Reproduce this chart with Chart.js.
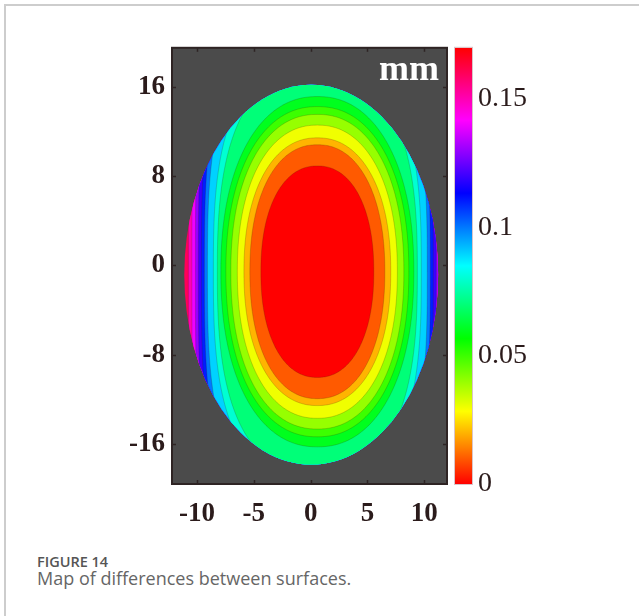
<!DOCTYPE html>
<html><head><meta charset="utf-8">
<script src="https://cdn.jsdelivr.net/npm/chart.js@4/dist/chart.umd.min.js"></script>
<style>
html,body{margin:0;padding:0;background:#fff;width:639px;height:616px;overflow:hidden;}
#frame{position:absolute;left:4px;top:4px;width:635px;height:612px;border-left:2px solid #cdcdcd;border-top:2px solid #cdcdcd;}
#cv{position:absolute;left:0;top:0;}
.cap{position:absolute;left:37px;font-family:"Open Sans";white-space:nowrap;}
#t1{top:555.4px;font-size:14.5px;line-height:14.5px;font-weight:600;color:#555;}
#t2{top:569px;font-size:18px;line-height:18px;color:#666;}
</style></head><body>
<div id="frame"></div>
<canvas id="cv" width="639" height="540"></canvas>
<div class="cap" id="t1">FIGURE 14</div>
<div class="cap" id="t2">Map of differences between surfaces.</div>
<script>
// ---- data ----
const xTicks = [-10, -5, 0, 5, 10];
const yTicks = [-16, -8, 0, 8, 16];
const cbTicks = [0, 0.05, 0.1, 0.15];
const cbTickLabels = ['0', '0.05', '0.1', '0.15'];
const cbMax = 0.17;
// contour levels (mm), semi-axes (plot units) and shape exponents of their iso-lines
const levels     = [0.01, 0.02, 0.03, 0.04, 0.05, 0.06, 0.07, 0.08, 0.09, 0.10, 0.11, 0.12, 0.13, 0.14, 0.15, 0.16];
const semiX      = [4.97, 5.94, 6.46, 7.04, 7.61, 8.05, 8.49, 8.80, 9.15, 9.67, 9.94, 10.20, 10.47, 10.73, 11.04, 11.35];
const semiY      = [9.48, 11.38, 12.00, 13.14, 14.10, 14.80, 15.70, 18.0, 18.8, 20.5, 22.0, 23.5, 25.0, 27.0, 29.0, 31.0];
const contourExp = [2.2, 2.2, 2.2, 2.2, 2.2, 2.2, 2.2, 2.6, 2.8, 3.0, 3.1, 3.2, 3.3, 3.4, 3.5, 3.6];
const fieldCenter = [0.59, -0.57];
const apertureCenter = [0.05, -0.84];
const apertureSemi = [11.17, 17.02];
const unitLabel = 'mm';

function hsv(v){
  let h = (v / cbMax) * 6; h = ((h % 6) + 6) % 6;
  const i = Math.floor(h), f = h - i;
  const q = 1 - f, t = f;
  const tab = [[1,t,0],[q,1,0],[0,1,t],[0,q,1],[t,0,1],[1,0,q]][i];
  return 'rgb(' + tab.map(c => Math.round(c*255)).join(',') + ')';
}

function isoPath(ctx, x, y, a, b, e){
  const N = 360;
  ctx.beginPath();
  for (let i = 0; i < N; i++){
    const t = i / N * Math.PI * 2;
    const c = Math.cos(t), s = Math.sin(t);
    const dx = a * Math.sign(c) * Math.pow(Math.abs(c), 2 / e);
    const dy = b * Math.sign(s) * Math.pow(Math.abs(s), 2 / e);
    const px = x.getPixelForValue(fieldCenter[0] + dx);
    const py = y.getPixelForValue(fieldCenter[1] + dy);
    if (i === 0) ctx.moveTo(px, py); else ctx.lineTo(px, py);
  }
  ctx.closePath();
}

const contourPlugin = {
  id: 'contour',
  beforeDatasetsDraw(chart){
    const {ctx, chartArea: a, scales: {x, y}} = chart;
    ctx.save();
    ctx.fillStyle = '#4b4b4b';
    ctx.fillRect(a.left, a.top, a.width, a.height);
    const acx = x.getPixelForValue(apertureCenter[0]);
    const acy = y.getPixelForValue(apertureCenter[1]);
    const arx = Math.abs(x.getPixelForValue(apertureCenter[0] + apertureSemi[0]) - acx);
    const ary = Math.abs(y.getPixelForValue(apertureCenter[1] + apertureSemi[1]) - acy);
    ctx.beginPath();
    ctx.ellipse(acx, acy, arx, ary, 0, 0, Math.PI*2);
    ctx.clip();
    ctx.fillStyle = hsv(levels[levels.length-1]);
    ctx.fillRect(a.left, a.top, a.width, a.height);
    for (let k = levels.length - 1; k >= 0; k--){
      isoPath(ctx, x, y, semiX[k], semiY[k], contourExp[k]);
      ctx.fillStyle = hsv(k > 0 ? levels[k-1] : 0);
      ctx.fill();
      ctx.strokeStyle = 'rgba(60,40,0,0.2)';
      ctx.lineWidth = 1;
      ctx.stroke();
    }
    ctx.restore();
  },
  afterDraw(chart){
    const {ctx, chartArea: a, scales: {x, y, cb}} = chart;
    ctx.save();
    ctx.strokeStyle = '#2e2424';
    ctx.lineWidth = 2;
    ctx.strokeRect(a.left, a.top, a.width, a.height);
    ctx.lineWidth = 1.5;
    ctx.beginPath();
    xTicks.forEach(v => {
      const p = Math.round(x.getPixelForValue(v)) + 0.5;
      ctx.moveTo(p, a.bottom); ctx.lineTo(p, a.bottom - 4);
      ctx.moveTo(p, a.top); ctx.lineTo(p, a.top + 4);
    });
    yTicks.forEach(v => {
      const p = Math.round(y.getPixelForValue(v)) + 0.5;
      ctx.moveTo(a.left, p); ctx.lineTo(a.left + 4, p);
      ctx.moveTo(a.right, p); ctx.lineTo(a.right - 4, p);
    });
    ctx.stroke();
    ctx.fillStyle = '#ffffff';
    ctx.font = 'bold 36px "Liberation Serif"';
    ctx.textAlign = 'right';
    ctx.textBaseline = 'alphabetic';
    ctx.fillText(unitLabel, a.right - 8, a.top + 32);
    const bx = a.right + 8, bw = 17;
    const top = cb.getPixelForValue(cbMax), bot = cb.getPixelForValue(0);
    const g = ctx.createLinearGradient(0, bot, 0, top);
    for (let i = 0; i <= 36; i++){ g.addColorStop(i/36, hsv(cbMax*i/36)); }
    ctx.fillStyle = g;
    ctx.fillRect(bx, top, bw, bot - top);
    ctx.strokeStyle = '#d9c4c8';
    ctx.lineWidth = 1;
    ctx.strokeRect(bx - 0.5, top - 0.5, bw + 1, bot - top + 1);
    ctx.restore();
  }
};

const tickFont = {family: 'Liberation Serif', size: 27, weight: 'bold'};
new Chart(document.getElementById('cv'), {
  type: 'scatter',
  data: {datasets: [{data: [], pointRadius: 0}]},
  options: {
    responsive: false, animation: false, devicePixelRatio: 1,
    layout: {padding: {left: 100, right: 92, top: 40, bottom: 0}},
    plugins: {legend: {display: false}, tooltip: {enabled: false}},
    scales: {
      x: {type: 'linear', position: 'bottom', min: -12.2, max: 12,
          afterBuildTicks: s => { s.ticks = xTicks.map(v => ({value: v})); },
          afterFit: s => { s.height = 56; },
          grid: {display: false, drawTicks: false}, border: {display: false},
          ticks: {padding: 14, font: tickFont, color: '#2b1b1b', callback: v => String(v)}},
      y: {type: 'linear', position: 'left', min: -19.6, max: 19.5,
          afterBuildTicks: s => { s.ticks = yTicks.map(v => ({value: v})); },
          afterFit: s => { s.width = 72; },
          grid: {display: false, drawTicks: false}, border: {display: false},
          ticks: {padding: 7, font: tickFont, color: '#2b1b1b', callback: v => String(v)}},
      cb: {type: 'linear', position: 'right', min: 0, max: cbMax,
          afterBuildTicks: s => { s.ticks = cbTicks.map(v => ({value: v})); },
          afterFit: s => { s.width = 100; },
          grid: {display: false, drawTicks: false}, border: {display: false},
          ticks: {padding: 31, font: {family: 'Liberation Serif', size: 28}, color: '#2b1b1b',
                  callback: (v, i) => cbTickLabels[i]}}
    }
  },
  plugins: [contourPlugin]
});
</script>
</body></html>
